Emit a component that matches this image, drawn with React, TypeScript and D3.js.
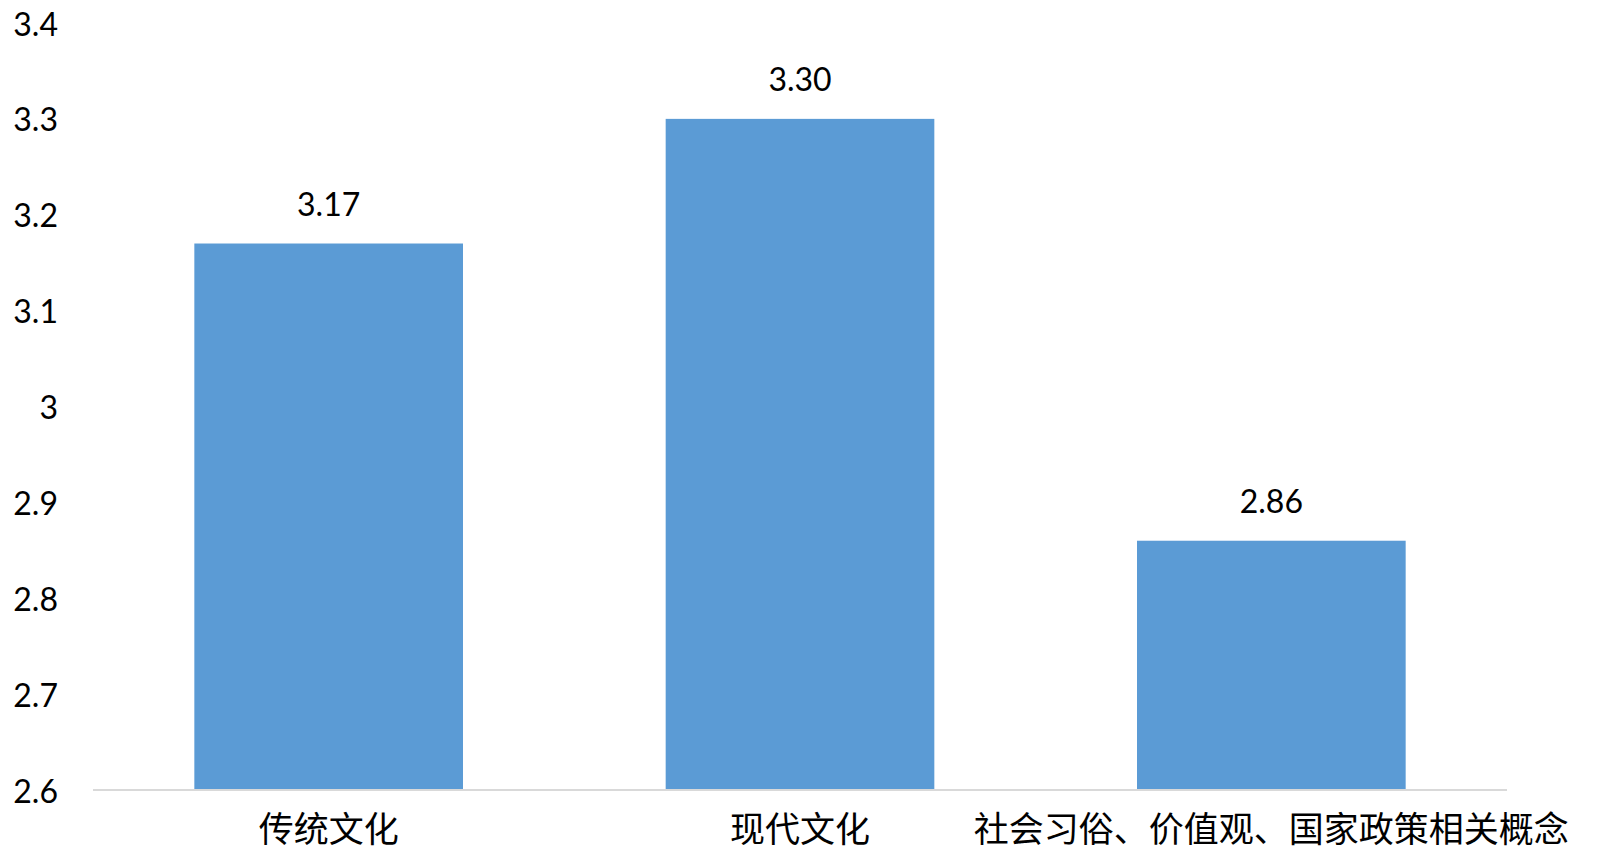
import React, { useEffect, useRef } from "react";
import * as d3 from "d3";

const categories = ["传统文化", "现代文化", "社会习俗、价值观、国家政策相关概念"];
const values = [3.17, 3.3, 2.86];
const yTicks = [2.6, 2.7, 2.8, 2.9, 3, 3.1, 3.2, 3.3, 3.4];

const width = 1597;
const height = 856;
const margin = { top: 23, right: 90, bottom: 66, left: 93 };

export default function App() {
  const svgRef = useRef<SVGSVGElement>(null);

  useEffect(() => {
    const svg = d3.select(svgRef.current);
    svg.selectAll("*").remove();

    const x = d3
      .scaleBand<string>()
      .domain(categories)
      .range([margin.left, width - margin.right])
      .paddingInner(0.43)
      .paddingOuter(0.215);

    const y = d3
      .scaleLinear()
      .domain([2.6, 3.4])
      .range([height - margin.bottom, margin.top]);

    // y tick labels (no axis line, no gridlines)
    svg
      .append("g")
      .selectAll("text")
      .data(yTicks)
      .enter()
      .append("text")
      .attr("x", 58)
      .attr("y", (d) => y(d))
      .attr("text-anchor", "end")
      .attr("dominant-baseline", "central")
      .attr("font-family", "Lato, 'Open Sans', sans-serif")
      .attr("font-size", 32)
      .attr("fill", "#000")
      .text((d) => String(d));

    // bars
    svg
      .append("g")
      .selectAll("rect")
      .data(values)
      .enter()
      .append("rect")
      .attr("x", (d, i) => x(categories[i])!)
      .attr("y", (d) => y(d))
      .attr("width", x.bandwidth())
      .attr("height", (d) => y(2.6) - y(d))
      .attr("fill", "#5B9BD5");

    // baseline
    svg
      .append("line")
      .attr("x1", margin.left)
      .attr("x2", width - margin.right)
      .attr("y1", y(2.6))
      .attr("y2", y(2.6))
      .attr("stroke", "#D9D9D9")
      .attr("stroke-width", 2);

    // value labels
    svg
      .append("g")
      .selectAll("text")
      .data(values)
      .enter()
      .append("text")
      .attr("x", (d, i) => x(categories[i])! + x.bandwidth() / 2)
      .attr("y", (d) => y(d) - 28)
      .attr("text-anchor", "middle")
      .attr("font-family", "Lato, 'Open Sans', sans-serif")
      .attr("font-size", 32)
      .attr("fill", "#000")
      .text((d) => d.toFixed(2));

    // category labels
    svg
      .append("g")
      .selectAll("text")
      .data(categories)
      .enter()
      .append("text")
      .attr("x", (d) => x(d)! + x.bandwidth() / 2)
      .attr("y", 842)
      .attr("text-anchor", "middle")
      .attr("font-family", "'Noto Sans CJK SC', sans-serif")
      .attr("font-size", 35)
      .attr("fill", "#000")
      .text((d) => d);
  }, []);

  return (
    <svg
      ref={svgRef}
      width={width}
      height={height}
      style={{ position: "absolute", left: 0, top: 0, display: "block", background: "#fff" }}
    />
  );
}
